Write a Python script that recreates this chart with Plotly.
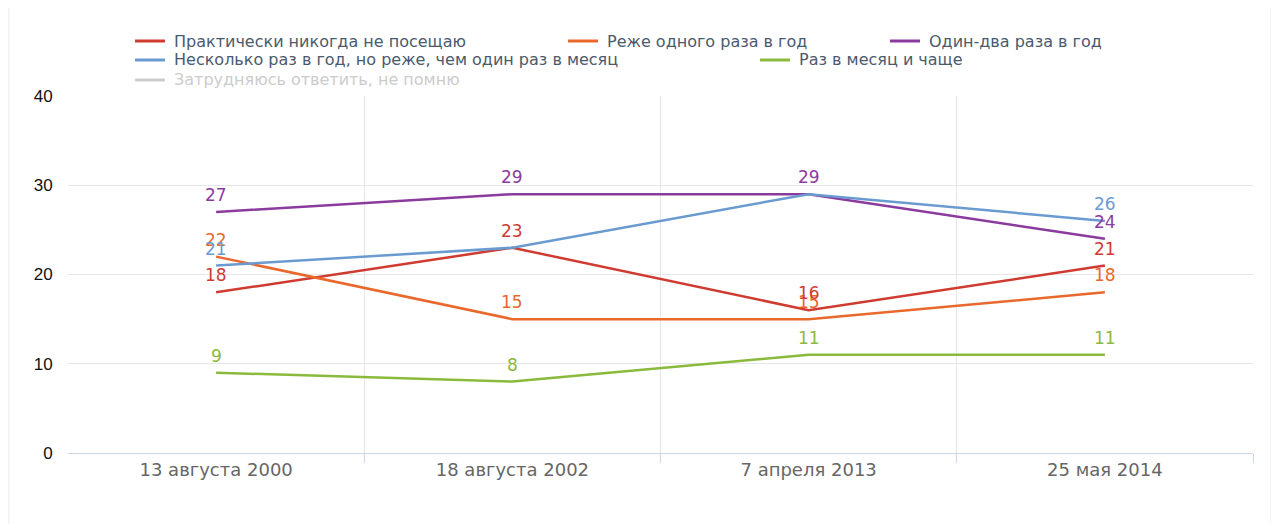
import plotly.graph_objects as go

categories = ["13 августа 2000", "18 августа 2002", "7 апреля 2013", "25 мая 2014"]
series_names = [
    "Практически никогда не посещаю",
    "Реже одного раза в год",
    "Один-два раза в год",
    "Несколько раз в год, но реже, чем один раз в месяц",
    "Раз в месяц и чаще",
    "Затрудняюсь ответить, не помню",
]
never = [18, 23, 16, 21]
less_than_yearly = [22, 15, 15, 18]
once_twice = [27, 29, 29, 24]
several_yearly = [21, 23, 29, 26]
monthly = [9, 8, 11, 11]
hard_to_say = []  # hidden series (legend only)

# which data labels are shown (overlapping ones hidden, as in the original)
label_shown = {
    0: [True, True, True, True],
    1: [True, True, True, True],
    2: [True, True, True, True],
    3: [True, False, False, True],
    4: [True, True, True, True],
}

colors = ["#cf3b30", "#e8692b", "#8b3a9e", "#6a9bd0", "#8aba3c", "#cccccc"]
values = [never, less_than_yearly, once_twice, several_yearly, monthly]
xpos = [i + 1 for i in range(len(categories))]

OFF = 8  # page body margin
W, H = 1279 - OFF, 524 - OFF
L, R, T, B = 68 - OFF, 26, 96 - OFF, 71
pw, ph = W - L - R, H - T - B


def px_x(px):  # screenshot pixel -> paper x
    return (px - OFF - L) / pw


def px_y(py):  # screenshot pixel -> paper y
    return (H - B - (py - OFF)) / ph


fig = go.Figure()
for idx, vals in enumerate(values):
    fig.add_trace(go.Scatter(
        x=xpos, y=vals, name=series_names[idx], mode="lines",
        line=dict(color=colors[idx], width=2.5),
        hoverinfo="skip", showlegend=False,
    ))

# data labels (orange drawn first so red sits on top, as in the original)
for idx in [1, 0, 2, 3, 4]:
    for j, v in enumerate(values[idx]):
        if label_shown[idx][j]:
            fig.add_annotation(
                x=xpos[j], y=v, xref="x", yref="y", text=str(v),
                showarrow=False, yshift=17, yanchor="middle",
                font=dict(family="DejaVu Sans", size=17, color=colors[idx]),
            )

# white card behind the chart
fig.add_shape(type="rect", xref="paper", yref="paper", layer="below",
              x0=px_x(10), x1=px_x(1270), y0=px_y(540), y1=px_y(0),
              fillcolor="white", line=dict(width=0))

# legend drawn as real text, positioned like the original
legend_pos = [  # (symbol x, row y) in screenshot pixels
    (135, 41), (568, 41), (890, 41),
    (135, 60), (760, 60),
    (135, 80),
]
for idx, name in enumerate(series_names):
    sx, sy = legend_pos[idx]
    fig.add_shape(type="line", xref="paper", yref="paper",
                  x0=px_x(sx), x1=px_x(sx + 30), y0=px_y(sy), y1=px_y(sy),
                  line=dict(color=colors[idx], width=3))
    fig.add_annotation(
        x=px_x(sx + 37), y=px_y(sy), xref="paper", yref="paper",
        text=name, showarrow=False, xanchor="left", yanchor="middle",
        font=dict(family="DejaVu Sans", size=16,
                  color="#cccccc" if idx == 5 else "#4a5a6e"),
    )

fig.update_layout(
    width=W, height=H,
    margin=dict(l=L, r=R, t=T, b=B),
    paper_bgcolor="#f5f5f5", plot_bgcolor="white",
    showlegend=False,
    xaxis=dict(
        range=[0.5, 4.5], tickvals=xpos, ticktext=categories,
        showgrid=False, zeroline=False, ticks="",
        showline=True, linecolor="#ccd6eb", linewidth=1,
        tickfont=dict(family="DejaVu Sans", size=18, color="#666666"),
        minor=dict(tickvals=[1.5, 2.5, 3.5, 4.5], showgrid=True,
                   gridcolor="#e6e6e6", gridwidth=1, ticks="outside",
                   ticklen=9, tickcolor="#ccd6eb"),
        fixedrange=True,
    ),
    yaxis=dict(
        range=[0, 40], tickvals=[0, 10, 20, 30, 40],
        showgrid=True, gridcolor="#e6e6e6", gridwidth=1,
        zeroline=False, showline=False,
        ticks="outside", ticklen=11, tickcolor="rgba(0,0,0,0)",
        tickfont=dict(family="Liberation Sans, Arial", size=17, color="#111111"),
        fixedrange=True,
    ),
)

fig.write_html("out.html")
